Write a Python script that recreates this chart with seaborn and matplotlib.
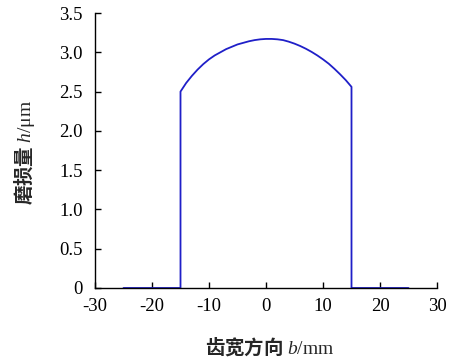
import numpy as np
import pandas as pd
import seaborn as sns
import matplotlib
matplotlib.use("Agg")
import matplotlib.pyplot as plt
from matplotlib.ticker import FuncFormatter

# Wear depth across the tooth width (b in mm, h in µm)
width_mm = [-25, -15, -15, -14, -13, -12, -11, -10, -9, -8, -7, -6, -5, -4, -3, -2, -1,
            0, 1, 2, 3, 4, 5, 6, 7, 8, 9, 10, 11, 12, 13, 14, 15, 15, 25]
wear_um = [0.0, 0.0, 2.50, 2.61, 2.70, 2.78, 2.85, 2.91, 2.96, 3.00, 3.04, 3.07, 3.10, 3.12,
           3.14, 3.155, 3.165, 3.17, 3.17, 3.165, 3.155, 3.135, 3.11, 3.08, 3.045, 3.005,
           2.96, 2.91, 2.855, 2.79, 2.72, 2.645, 2.56, 0.0, 0.0]

x_ticks = [-30, -20, -10, 0, 10, 20, 30]
y_ticks = [0, 0.5, 1.0, 1.5, 2.0, 2.5, 3.0, 3.5]

df = pd.DataFrame({"b": width_mm, "h": wear_um})

sns.set_theme(style="ticks")
plt.rcParams["font.family"] = ["Liberation Serif", "Noto Sans CJK SC"]
plt.rcParams["mathtext.fontset"] = "custom"
plt.rcParams["mathtext.rm"] = "Liberation Serif"
plt.rcParams["mathtext.it"] = "Liberation Serif:italic"

fig = plt.figure(figsize=(4.51, 3.60), dpi=100)
ax = fig.add_axes([95 / 451, 1 - 288 / 360, 342 / 451, 275 / 360])

sns.lineplot(data=df, x="b", y="h", sort=False, estimator=None,
             color="#1f1fc8", linewidth=1.3, ax=ax)

ax.set_xlim(-30, 30)
ax.set_ylim(0, 3.5)
ax.set_xticks(x_ticks)
ax.set_yticks(y_ticks)
ax.xaxis.set_major_formatter(FuncFormatter(lambda v, p: f"{v:.0f}"))
ax.yaxis.set_major_formatter(FuncFormatter(lambda v, p: "0" if v == 0 else f"{v:.1f}"))

for side in ("top", "right"):
    ax.spines[side].set_visible(False)
for side in ("left", "bottom"):
    ax.spines[side].set_color("black")
    ax.spines[side].set_linewidth(1.0)

ax.tick_params(axis="both", direction="in", length=4, width=1.0, color="black",
               labelsize=13.5, labelcolor="black")
ax.tick_params(axis="y", pad=9)
ax.tick_params(axis="x", pad=7)

cjk = {"family": "Noto Sans CJK SC", "weight": "bold", "size": 14}
ax.set_xlabel(r"齿宽方向 $b/\mathrm{mm}$", fontdict=cjk)
ax.set_ylabel(r"磨损量 $h/\mathrm{μm}$", fontdict=cjk)
ax.xaxis.set_label_coords(0.51, -0.172)
ax.yaxis.set_label_coords(-0.17, 0.495)

fig.savefig("out.png", dpi=100, facecolor="white")
